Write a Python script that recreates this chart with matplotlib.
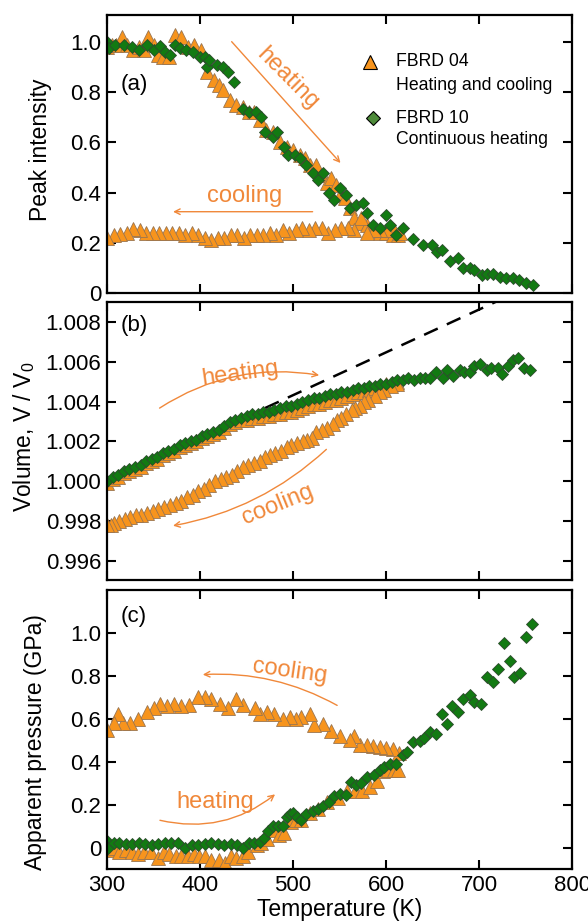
import matplotlib
matplotlib.use("Agg")
import matplotlib.pyplot as plt
import numpy as np

plt.rcParams['font.family'] = ['Liberation Sans', 'DejaVu Sans']
plt.rcParams['mathtext.fontset'] = 'custom'
plt.rcParams['mathtext.rm'] = 'Liberation Sans'
plt.rcParams['mathtext.it'] = 'Liberation Sans:italic'

# ---- (a) peak intensity ----
heat_T_a = [300, 305, 310, 316, 322, 328, 334, 340, 344, 350, 355, 360, 367, 373, 380, 387, 394, 401, 408, 415,
            420, 425, 432, 439, 446, 453, 458, 464, 471, 478, 486, 493, 500, 507, 513, 518, 525, 530, 536, 541,
            546, 550, 556, 561, 566, 572, 579, 586, 593, 600, 607, 613]
heat_I_a = [0.98, 0.99, 0.99, 1.02, 0.99, 0.97, 0.98, 0.97, 1.02, 0.99, 0.95, 0.94, 0.94, 1.03, 1.02, 0.98, 0.99, 0.97, 0.88, 0.85,
            0.83, 0.81, 0.77, 0.75, 0.74, 0.72, 0.72, 0.69, 0.65, 0.64, 0.60, 0.58, 0.57, 0.55, 0.54, 0.51, 0.51, 0.47, 0.44, 0.46,
            0.43, 0.39, 0.38, 0.34, 0.30, 0.28, 0.27, 0.26, 0.24, 0.24, 0.23, 0.23]
cool_T_a = [615, 608, 601, 594, 587, 580, 573, 566, 559, 552, 545, 538, 531, 524, 517, 510, 503, 496, 489, 482,
            475, 468, 461, 454, 447, 440, 433, 426, 419, 412, 405, 398, 391, 384, 377, 370, 363, 356, 349, 342,
            335, 328, 321, 314, 307, 300]
cool_I_a = [0.24, 0.25, 0.25, 0.25, 0.25, 0.24, 0.30, 0.25, 0.26, 0.26, 0.25, 0.24, 0.26, 0.26, 0.25, 0.26, 0.25, 0.24, 0.25, 0.23,
            0.24, 0.23, 0.23, 0.23, 0.22, 0.23, 0.23, 0.22, 0.22, 0.21, 0.22, 0.23, 0.24, 0.23, 0.24, 0.24, 0.24, 0.24, 0.24, 0.24,
            0.25, 0.255, 0.24, 0.235, 0.23, 0.22]
cont_T_a = [300, 302, 309, 318, 327, 334, 343, 350, 357, 362, 368, 373, 378, 385, 392, 400, 405, 408, 410, 418,
            425, 430, 436, 446, 453, 460, 465, 470, 478, 483, 490, 495, 502, 507, 514, 521, 527, 532, 539, 544,
            550, 557, 561, 568, 575, 580, 586, 593, 600, 604, 611, 618, 629, 640, 649, 655, 660, 669, 677, 683,
            690, 695, 703, 708, 715, 722, 729, 736, 743, 750, 758]
cont_I_a = [1.00, 0.975, 0.99, 0.99, 0.98, 0.97, 0.99, 0.97, 0.985, 0.96, 0.95, 0.99, 0.975, 0.97, 0.96, 0.94, 0.94, 0.90, 0.93, 0.91,
            0.90, 0.88, 0.84, 0.735, 0.72, 0.72, 0.70, 0.64, 0.62, 0.64, 0.58, 0.55, 0.55, 0.54, 0.51, 0.48, 0.45, 0.48, 0.40, 0.37,
            0.42, 0.39, 0.34, 0.35, 0.36, 0.32, 0.27, 0.26, 0.31, 0.27, 0.23, 0.26, 0.216, 0.19, 0.19, 0.165, 0.17, 0.128, 0.14, 0.10,
            0.10, 0.09, 0.072, 0.075, 0.074, 0.064, 0.06, 0.06, 0.05, 0.04, 0.032]

# ---- (b) relative volume ----
heat_T_b = [300, 306, 312, 318, 324, 330, 336, 342, 348, 354, 360, 366, 372, 378, 384, 390, 396, 402, 408, 414,
            420, 426, 432, 438, 444, 450, 456, 462, 468, 474, 480, 486, 492, 498, 504, 510, 516, 522, 528, 534,
            540, 546, 552, 558, 564, 570, 576, 582, 588, 594, 600, 606, 612]
heat_V_b = [0.9999, 1.0001, 1.0002, 1.0004, 1.0005, 1.0006, 1.0007, 1.0009, 1.0010, 1.0011, 1.0013, 1.0014, 1.0015, 1.0017,
            1.0018, 1.0019, 1.0020, 1.0022, 1.0023, 1.0024, 1.0025, 1.0027, 1.0029, 1.0030, 1.0031, 1.0031, 1.0032, 1.0032,
            1.0033, 1.0033, 1.0034, 1.0034, 1.0035, 1.0035, 1.0036, 1.0037, 1.0038, 1.0039, 1.0039, 1.0040, 1.0041, 1.0041,
            1.0042, 1.0043, 1.0044, 1.0045, 1.0045, 1.0046, 1.0047, 1.0048, 1.0049, 1.0049, 1.0050]
cool_T_b = [612, 605, 598, 593, 588, 581, 576, 572, 567, 563, 557, 552, 547, 543, 536, 531, 525, 520, 515, 511,
            504, 498, 493, 487, 481, 475, 470, 464, 458, 452, 446, 440, 434, 428, 422, 416, 410, 404, 398, 392,
            386, 380, 374, 368, 361, 355, 349, 343, 337, 331, 325, 319, 313, 307, 304, 300]
cool_V_b = [1.0049, 1.0048, 1.0046, 1.0045, 1.0043, 1.0041, 1.0040, 1.0038, 1.0037, 1.0036, 1.0034, 1.0032, 1.0031, 1.0029,
            1.0027, 1.0026, 1.0025, 1.0022, 1.0021, 1.0020, 1.0019, 1.0018, 1.0017, 1.0015, 1.0014, 1.0013, 1.0012, 1.0010,
            1.0009, 1.0008, 1.0007, 1.0005, 1.0003, 1.0002, 1.0001, 1.0000, 0.9998, 0.9996, 0.9995, 0.9993, 0.9992, 0.9990,
            0.9989, 0.9988, 0.9987, 0.9986, 0.9985, 0.9984, 0.9983, 0.9983, 0.9982, 0.9981, 0.9980, 0.9979, 0.9978, 0.9978]
cont_T_b = [300, 306, 312, 318, 324, 330, 336, 342, 348, 354, 360, 366, 372, 378, 384, 390, 396, 402, 408, 414,
            420, 426, 432, 438, 444, 450, 456, 462, 468, 474, 480, 486, 492, 498, 504, 510, 516, 522, 528, 534,
            540, 546, 552, 558, 564, 570, 576, 582, 588, 594, 600, 606, 612, 618, 624, 630, 636, 642, 647, 654,
            661, 666, 672, 679, 684, 690, 695, 701, 708, 713, 720, 725, 731, 736, 742, 748, 755]
cont_V_b = [1.0000, 1.0002, 1.0003, 1.0005, 1.0006, 1.0007, 1.0008, 1.0010, 1.0011, 1.0012, 1.0014, 1.0015, 1.0016, 1.0018,
            1.0019, 1.0020, 1.0021, 1.0023, 1.0024, 1.0025, 1.0026, 1.0028, 1.0030, 1.0031, 1.0032, 1.0033, 1.0034, 1.0034,
            1.0035, 1.0035, 1.0036, 1.0037, 1.0038, 1.0038, 1.0039, 1.0040, 1.0041, 1.0042, 1.0042, 1.0043, 1.0044, 1.0044,
            1.0045, 1.0045, 1.0046, 1.0047, 1.0047, 1.0048, 1.0048, 1.0049, 1.0049, 1.0050, 1.0051, 1.0051, 1.0052, 1.0051,
            1.0052, 1.0052, 1.0052, 1.0055, 1.0052, 1.0056, 1.0053, 1.0056, 1.0055, 1.0055, 1.0058, 1.0059, 1.0056, 1.0057,
            1.0057, 1.0054, 1.0058, 1.0061, 1.0062, 1.0057, 1.0056]
# linear expansion reference (dashed)
fit_T = [470, 745]
fit_V = [1.00368, 1.00959]

# ---- (c) apparent pressure ----
heat_T_c = [300, 307, 313, 320, 327, 333, 340, 347, 355, 361, 367, 374, 380, 387, 393, 399, 405, 412, 420, 427,
            433, 439, 446, 452, 461, 466, 472, 480, 485, 490, 498, 503, 509, 518, 527, 537, 548, 558, 567, 574,
            583, 590, 597, 602, 609, 613]
heat_P_c = [-0.01, 0.0, -0.02, -0.01, -0.02, -0.03, -0.02, -0.02, -0.05, -0.02, -0.03, -0.04, -0.04, -0.04, -0.03, -0.04,
            -0.04, -0.06, -0.06, -0.07, -0.04, -0.05, -0.04, -0.02, 0.01, 0.02, 0.04, 0.08, 0.06, 0.07, 0.12, 0.13, 0.13,
            0.16, 0.18, 0.21, 0.23, 0.265, 0.265, 0.265, 0.28, 0.31, 0.355, 0.36, 0.36, 0.36]
cool_T_c = [614, 607, 600, 593, 586, 579, 572, 566, 561, 550, 541, 532, 523, 518, 509, 503, 497, 489, 480, 472,
            464, 459, 446, 439, 430, 421, 412, 405, 398, 388, 380, 372, 364, 357, 350, 343, 333, 325, 317, 312,
            307, 300]
cool_P_c = [0.44, 0.46, 0.465, 0.47, 0.475, 0.48, 0.48, 0.52, 0.50, 0.52, 0.545, 0.575, 0.57, 0.62, 0.61, 0.60, 0.61, 0.60,
            0.62, 0.63, 0.62, 0.65, 0.665, 0.69, 0.65, 0.67, 0.69, 0.70, 0.70, 0.665, 0.66, 0.67, 0.66, 0.67, 0.65, 0.63,
            0.60, 0.58, 0.58, 0.62, 0.58, 0.55]
cont_T_c = [300, 301, 307, 313, 320, 327, 334, 341, 348, 355, 362, 369, 376, 384, 391, 398, 405, 412, 419, 426,
            433, 440, 446, 453, 458, 464, 469, 473, 478, 484, 489, 493, 497, 500, 504, 509, 514, 521, 527, 532,
            539, 544, 550, 557, 562, 568, 573, 580, 587, 593, 598, 604, 611, 618, 623, 629, 636, 641, 647, 654,
            660, 666, 671, 677, 683, 690, 695, 702, 708, 715, 720, 727, 733, 738, 744, 750, 757]
cont_P_c = [0.03, 0.0, 0.02, 0.02, 0.015, 0.015, 0.02, 0.015, 0.01, 0.015, 0.02, 0.02, 0.02, 0.0, 0.01, 0.01, 0.015, 0.02,
            0.015, 0.01, 0.015, 0.01, 0.0, 0.02, 0.02, 0.025, 0.045, 0.075, 0.10, 0.10, 0.10, 0.14, 0.155, 0.16, 0.14, 0.13,
            0.155, 0.17, 0.18, 0.195, 0.21, 0.24, 0.25, 0.245, 0.305, 0.29, 0.30, 0.33, 0.34, 0.36, 0.375, 0.39, 0.39, 0.43,
            0.445, 0.49, 0.495, 0.51, 0.54, 0.53, 0.62, 0.575, 0.66, 0.63, 0.69, 0.71, 0.68, 0.67, 0.795, 0.77, 0.83, 0.955,
            0.87, 0.795, 0.815, 0.98, 1.04]

orange = '#F7941D'
orange_edge = '#9A7550'
green = '#127A12'
green_edge = '#2E4A2E'
note = '#F0883A'

tri = dict(ls='none', marker='^', ms=9.5, mfc=orange, mec=orange_edge, mew=0.6)
dia = dict(ls='none', marker='D', ms=6.3, mfc=green, mec=green_edge, mew=0.6)

tick_fs = 16
label_fs = 16.5
note_fs = 17
panel_fs = 16
legend_fs = 12.7

fig = plt.figure(figsize=(5.88, 9.21), dpi=100)
left, width = 0.182, 0.791
ax_a = fig.add_axes([left, 1 - 293 / 921, width, 278 / 921])
ax_b = fig.add_axes([left, 1 - 580 / 921, width, 278 / 921])
ax_c = fig.add_axes([left, 1 - 869 / 921, width, 279 / 921])

for ax in (ax_a, ax_b, ax_c):
    ax.set_xlim(300, 800)
    ax.set_xticks([300, 400, 500, 600, 700, 800])
    ax.tick_params(direction='in', length=6.5, width=1.5, top=True, right=True, labelsize=tick_fs, pad=4)
    for s in ax.spines.values():
        s.set_linewidth(1.6)

# (a)
ax_a.plot(heat_T_a, heat_I_a, **tri)
ax_a.plot(cool_T_a, cool_I_a, **tri)
ax_a.plot(cont_T_a, cont_I_a, **dia)
ax_a.set_ylim(0, 1.108)
ax_a.set_yticks([0, 0.2, 0.4, 0.6, 0.8, 1.0])
ax_a.set_yticklabels(['0', '0.2', '0.4', '0.6', '0.8', '1.0'])
ax_a.set_xticklabels([])
ax_a.set_ylabel('Peak intensity', fontsize=label_fs)
ax_a.yaxis.set_label_coords(-0.118, 0.515)
ax_a.text(0.03, 0.75, '(a)', transform=ax_a.transAxes, fontsize=panel_fs, va='center')
ax_a.annotate('', xy=(553, 0.51), xytext=(432, 1.01),
              arrowprops=dict(arrowstyle='->', color=note, lw=1.0))
ax_a.text(494, 0.855, 'heating', color=note, fontsize=note_fs, rotation=-45, ha='center', va='center',
          rotation_mode='anchor')
ax_a.annotate('', xy=(368, 0.324), xytext=(524, 0.324),
              arrowprops=dict(arrowstyle='->', color=note, lw=1.0))
ax_a.text(448, 0.385, 'cooling', color=note, fontsize=note_fs, ha='center', va='center')

# legend drawn by hand so the marker sits beside the first line
ax_a.plot([0.566], [0.831], transform=ax_a.transAxes, clip_on=False, ls='none', marker='^', ms=10,
          mfc=orange, mec='black', mew=0.8)
ax_a.text(0.622, 0.831, 'FBRD 04', transform=ax_a.transAxes, fontsize=legend_fs, va='center')
ax_a.text(0.622, 0.748, 'Heating and cooling', transform=ax_a.transAxes, fontsize=legend_fs, va='center')
ax_a.plot([0.572], [0.629], transform=ax_a.transAxes, clip_on=False, ls='none', marker='D', ms=7,
          mfc='#4E8B3A', mec='black', mew=0.8)
ax_a.text(0.622, 0.629, 'FBRD 10', transform=ax_a.transAxes, fontsize=legend_fs, va='center')
ax_a.text(0.622, 0.553, 'Continuous heating', transform=ax_a.transAxes, fontsize=legend_fs, va='center')

# (b)
ax_b.plot(fit_T, fit_V, color='black', ls=(0, (6, 4)), lw=1.8)
ax_b.plot(heat_T_b, heat_V_b, **tri)
ax_b.plot(cool_T_b, cool_V_b, **tri)
ax_b.plot(cont_T_b, cont_V_b, **dia)
ax_b.set_ylim(0.99505, 1.009)
ax_b.set_yticks([0.996, 0.998, 1.000, 1.002, 1.004, 1.006, 1.008])
ax_b.set_yticklabels(['0.996', '0.998', '1.000', '1.002', '1.004', '1.006', '1.008'])
ax_b.set_xticklabels([])
ax_b.set_ylabel(r'Volume, V / V$_0$', fontsize=label_fs)
ax_b.yaxis.set_label_coords(-0.15, 0.515)
ax_b.text(0.03, 0.915, '(b)', transform=ax_b.transAxes, fontsize=panel_fs, va='center')
ax_b.annotate('', xy=(531, 1.0053), xytext=(354, 1.0036),
              arrowprops=dict(arrowstyle='->', color=note, lw=1.0, connectionstyle='arc3,rad=-0.2'))
ax_b.text(443, 1.0054, 'heating', color=note, fontsize=note_fs, rotation=8, ha='center', va='center')
ax_b.annotate('', xy=(368, 0.99775), xytext=(538, 1.0017),
              arrowprops=dict(arrowstyle='->', color=note, lw=1.0, connectionstyle='arc3,rad=-0.15'))
ax_b.text(484, 0.99885, 'cooling', color=note, fontsize=note_fs, rotation=22, ha='center', va='center')

# (c)
ax_c.plot(heat_T_c, heat_P_c, **tri)
ax_c.plot(cool_T_c, cool_P_c, **tri)
ax_c.plot(cont_T_c, cont_P_c, **dia)
ax_c.set_ylim(-0.1, 1.2)
ax_c.set_yticks([0, 0.2, 0.4, 0.6, 0.8, 1.0])
ax_c.set_yticklabels(['0', '0.2', '0.4', '0.6', '0.8', '1.0'])
ax_c.set_xlabel('Temperature (K)', fontsize=label_fs, labelpad=2)
ax_c.set_ylabel('Apparent pressure (GPa)', fontsize=label_fs)
ax_c.yaxis.set_label_coords(-0.129, 0.455)
ax_c.text(0.03, 0.905, '(c)', transform=ax_c.transAxes, fontsize=panel_fs, va='center')
ax_c.annotate('', xy=(400, 0.805), xytext=(550, 0.656),
              arrowprops=dict(arrowstyle='->', color=note, lw=1.0, connectionstyle='arc3,rad=0.15'))
ax_c.text(497, 0.82, 'cooling', color=note, fontsize=note_fs, rotation=-8, ha='center', va='center')
ax_c.annotate('', xy=(483, 0.256), xytext=(354, 0.13),
              arrowprops=dict(arrowstyle='->', color=note, lw=1.0, connectionstyle='arc3,rad=0.25'))
ax_c.text(416, 0.214, 'heating', color=note, fontsize=note_fs, ha='center', va='center')

fig.savefig('out.png', dpi=100)
